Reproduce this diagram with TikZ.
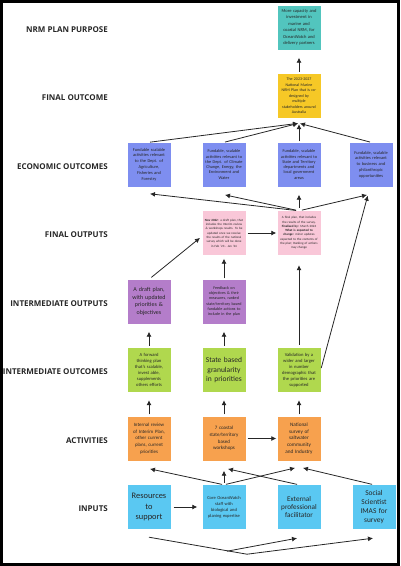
\documentclass[tikz,border=0pt]{standalone}
\usepackage{fontspec}
\setmainfont{Carlito}
\newfontfamily\headfont{Open Sans}
\usetikzlibrary{arrows.meta, positioning}

\definecolor{purposefill}{RGB}{82,197,190}
\definecolor{outcomefill}{RGB}{246,200,38}
\definecolor{economicfill}{RGB}{126,142,240}
\definecolor{outputfill}{RGB}{249,199,216}
\definecolor{interfill}{RGB}{180,125,202}
\definecolor{resultfill}{RGB}{176,216,78}
\definecolor{activityfill}{RGB}{247,161,78}
\definecolor{inputfill}{RGB}{90,200,242}

\newcommand{\cardfont}[2]{\fontsize{#1}{#2}\selectfont}

\begin{document}
\begin{tikzpicture}[node distance={68.5pt and 75pt}, on grid,
    main/.style = {minimum width=43pt, minimum height=44pt, text width=39pt, inner sep=2pt,
                   align=center, text=black!85, font=\cardfont{4.4}{5.8}},
    level/.style = {anchor=east, inner sep=0pt, yshift=-2pt, text=black!85,
                    font=\headfont\bfseries\fontsize{8}{9}\selectfont},
    link/.style = {-{Latex[length=5pt,width=5pt]}, line width=0.8pt, color=black!85,
                   shorten <=2pt, shorten >=8pt}]

    \useasboundingbox (0,0) rectangle (400pt,-566pt);
    \draw[line width=3pt] (1.5pt,-1.5pt) rectangle (398.5pt,-564.5pt);

    % inputs
    \node[main, fill=inputfill, font=\cardfont{8.4}{10.3}] (resources) at (149pt,-507pt) {Resources\\to\\support};
    \node[main, fill=inputfill, font=\cardfont{4.5}{6}] (core) [right=of resources] {Core OceanWatch\\staff with\\biological and\\planing expertise};
    \node[main, fill=inputfill, font=\cardfont{7.2}{8.4}] (external) [right=of core] {External\\professional\\facilitator};
    \node[main, fill=inputfill, font=\cardfont{7.4}{9.3}] (social) [right=of external] {Social\\Scientist\\IMAS for\\survey};

    % activities
    \node[main, fill=activityfill, font=\cardfont{4.9}{6.6}] (internal) [above=of resources] {Internal review\\of Interim Plan,\\other current\\plans, current\\priorities};
    \node[main, fill=activityfill, font=\cardfont{5}{6.6}] (workshops) [above=of core] {7 coastal\\state/territory\\based\\workshops};
    \node[main, fill=activityfill, font=\cardfont{5.2}{6.6}] (survey) [above=of external] {National\\survey of\\saltwater\\community\\and Industry};

    % intermediate outcomes
    \node[main, fill=resultfill, font=\cardfont{4.6}{6}] (forward) [above=of internal] {A forward\\thinking plan\\that's scalable,\\invest able,\\supplements\\others efforts};
    \node[main, fill=resultfill, font=\cardfont{7.5}{9.3}] (granular) [above=of workshops] {State based\\granularity\\in priorities};
    \node[main, fill=resultfill, font=\cardfont{4.6}{6}] (validation) [above=of survey] {Validation by a\\wider and larger\\in number\\demographic that\\the priorities are\\supported};

    % intermediate outputs
    \node[main, fill=interfill, font=\cardfont{6}{7.7}] (draft) [above=of forward] {A draft plan,\\with updated\\priorities \&\\objectives};
    \node[main, fill=interfill, font=\cardfont{4.1}{5.3}] (feedback) [above=of granular] {Feedback on\\objectives \& their\\measures, ranked\\state/territory based\\fundable actions to\\include in the plan};

    % final outputs
    \node[main, fill=outputfill, font=\cardfont{3.2}{4.3}] (nov) [above=of feedback] {\textbf{Nov 2022}: a draft plan, that\\includes the Interim review\\\& workshops results. To be\\updated once we receive\\the results of the national\\survey which will be done\\in Feb '23 - Jan '24};
    \node[main, fill=outputfill, font=\cardfont{3.2}{4.3}] (final) [right=of nov] {A final plan, that includes\\the results of the survey.\\\textbf{Finalised by:} March 2024\\\textbf{What is expected to}\\\textbf{change:} minor updates\\expected to the contents of\\the plan; Ranking of actions\\may change};

    % economic outcomes
    \node[main, fill=economicfill, font=\cardfont{4.3}{5.3}] (climate) [above=of nov] {Fundable, scalable\\activities relevant to\\the Dept. of Climate\\Change, Energy, the\\Environment and\\Water};
    \node[main, fill=economicfill] (agri) [left=of climate] {Fundable scalable\\activities relevant\\to the Dept. of\\Agriculture,\\Fisheries and\\Forestry};
    \node[main, fill=economicfill, font=\cardfont{4.3}{5.3}] (states) [above=of final] {Fundable, scalable\\activities relevant to\\State and Territory\\departments and\\local government\\areas};
    \node[main, fill=economicfill] (business) [right=72pt of states] {Fundable, scalable\\activities relevant\\to business and\\philanthropic\\opportunities};

    % final outcome and purpose
    \node[main, fill=outcomefill, font=\cardfont{4}{5.5}] (plan) [above=of states] {The 2023-2027\\National Marine\\NRM Plan that is co-\\designed by\\multiple\\stakeholders around\\Australia};
    \node[main, fill=purposefill, font=\cardfont{4.5}{6.5}] (purpose) [above=of plan] {More capacity and\\investment in\\marine and\\coastal NRM, for\\OceanWatch and\\delivery partners};

    % row labels
    \coordinate (margin) at (108pt,0);
    \node[level] (purpose label) at (margin |- purpose) {NRM PLAN PURPOSE};
    \node[level] (outcome label) at (margin |- plan) {FINAL OUTCOME};
    \node[level] (economic label) at (margin |- states) {ECONOMIC OUTCOMES};
    \node[level] (final label) at (margin |- final) {FINAL OUTPUTS};
    \node[level] (inter label) at (margin |- draft) {INTERMEDIATE OUTPUTS};
    \node[level] (result label) at (margin |- forward) {INTERMEDIATE OUTCOMES};
    \node[level] (activity label) at (margin |- internal) {ACTIVITIES};
    \node[level] (input label) at (margin |- resources) {INPUTS};

    % inputs to activities
    \path[link] (resources) edge[shorten <=3pt, shorten >=5pt] (core);
    \path[link] (core.north) edge[shorten >=1pt] ([yshift=-8pt]internal.south);
    \path[link] (core.north) edge[shorten >=2pt] ([yshift=-8pt]workshops.south);
    \path[link] (core.north) edge[shorten >=1pt] ([xshift=-3pt,yshift=-7pt]survey.south);
    \path[link] (external.north) edge[shorten >=1pt] ([xshift=3pt,yshift=-8pt]workshops.south);
    \path[link] (social.north) edge[shorten >=1pt] ([xshift=3pt,yshift=-7pt]survey.south);

    \coordinate (res out) at ([yshift=-8pt]resources.south);
    \coordinate (fork) at ([shift={(3pt,-22pt)}]core.south);
    \coordinate (bend) at ([shift={(23pt,-25pt)}]core.south);
    \coordinate (ext in) at ([shift={(-2pt,-9pt)}]external.south);
    \coordinate (soc in) at ([shift={(-1pt,-9pt)}]social.south);
    \draw[link, shorten <=0pt, shorten >=0pt] (res out) -- (bend) -- (soc in);
    \draw[link, shorten <=0pt, shorten >=0pt] (fork) -- (ext in);

    % activities upwards
    \path[link] (workshops) edge[shorten <=2pt, shorten >=1pt] (survey);
    \path[link] (internal) edge (forward);
    \path[link] (workshops) edge (granular);
    \path[link] (survey) edge (validation);

    % intermediate outcomes upwards
    \path[link] (forward) edge (draft);
    \path[link] (granular) edge (feedback);
    \path[link] (validation) edge[shorten <=3pt, shorten >=10pt] (final);
    \path[link] (validation.east) edge[shorten >=1pt] ([xshift=-3pt,yshift=-8pt]business.south);

    % intermediate outputs upwards
    \path[link] (draft.north) edge[shorten <=3pt, shorten >=3pt] ([yshift=-3pt]nov.west);
    \path[link] (feedback) edge[shorten <=1pt, shorten >=3.5pt] (nov);
    \path[link] (nov) edge[shorten <=2pt, shorten >=1pt] (final);

    % final outputs to economic outcomes
    \path[link] (final.north) edge[shorten <=3pt, shorten >=1pt] ([yshift=-7pt]agri.south);
    \path[link] (final.north) edge[shorten <=3pt, shorten >=1pt] ([yshift=-8pt]climate.south);
    \path[link] (final) edge[shorten <=3pt] (states);
    \path[link] (final.north) edge[shorten <=3pt, shorten >=1pt] ([xshift=-3pt,yshift=-8pt]business.south);

    % economic outcomes to final outcome
    \path[link] (agri.north) edge[shorten <=1pt, shorten >=1pt] ([yshift=-5pt]plan.south);
    \path[link] (climate.north) edge[shorten <=1pt, shorten >=1pt] ([yshift=-5pt]plan.south);
    \path[link] (states.north) edge[shorten <=1pt, shorten >=1pt] ([yshift=-5pt]plan.south);
    \path[link] (business.north) edge[shorten <=1pt, shorten >=1pt] ([yshift=-5pt]plan.south);

    % final outcome to purpose
    \path[link] (plan) edge (purpose);
\end{tikzpicture}
\end{document}
